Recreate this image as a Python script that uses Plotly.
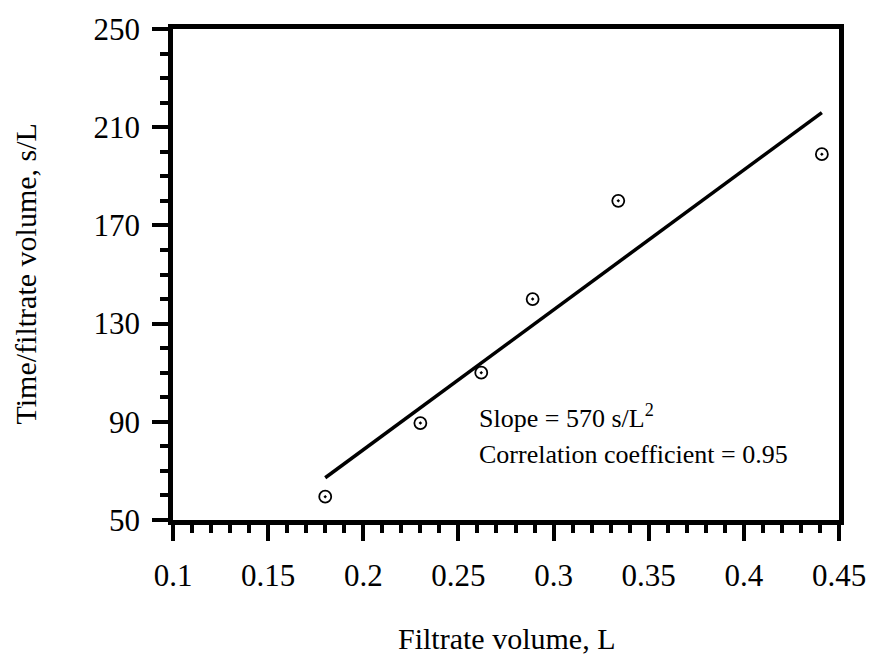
import plotly.graph_objects as go

# Measured filtration data
filtrate_volume = [0.180, 0.230, 0.262, 0.289, 0.334, 0.441]      # L
time_per_volume = [59.5, 89.5, 110.0, 140.0, 180.0, 199.0]        # s/L

# Least-squares line reported on the chart
slope = 570.0          # s/L^2
intercept = -35.4      # s/L
fit_x = [0.180, 0.441]
fit_y = [slope * v + intercept for v in fit_x]

x_ticks = [0.1, 0.15, 0.2, 0.25, 0.3, 0.35, 0.4, 0.45]
x_tick_text = ["0.1", "0.15", "0.2", "0.25", "0.3", "0.35", "0.4", "0.45"]
y_ticks = [50, 90, 130, 170, 210, 250]

FONT = "Liberation Serif, Times New Roman, serif"

fig = go.Figure()
fig.add_trace(go.Scatter(
    x=fit_x, y=fit_y, mode="lines",
    line=dict(color="black", width=3.5),
    showlegend=False, hoverinfo="skip",
))
fig.add_trace(go.Scatter(
    x=filtrate_volume, y=time_per_volume, mode="markers",
    marker=dict(symbol="circle-open-dot", size=12, color="black",
                line=dict(color="black", width=1.8)),
    showlegend=False,
))

axis_common = dict(
    showline=True, linecolor="black", linewidth=4.5, mirror=True,
    showgrid=False, zeroline=False,
    ticks="outside", tickcolor="black", tickwidth=3.5, ticklen=16,
    tickfont=dict(family=FONT, size=31, color="black"),
)

fig.update_xaxes(
    range=[0.1, 0.45], tickvals=x_ticks, ticktext=x_tick_text,
    minor=dict(dtick=0.01, tick0=0.1, ticks="outside", ticklen=8,
               tickwidth=3.5, tickcolor="black"),
    ticklabelstandoff=8,
    **axis_common,
)
fig.update_yaxes(
    range=[50, 250], tickvals=y_ticks,
    minor=dict(dtick=10, tick0=50, ticks="outside", ticklen=8,
               tickwidth=3.5, tickcolor="black"),
    ticklabelstandoff=6,
    **axis_common,
)

fig.add_annotation(
    x=0, y=0.5, xref="paper", yref="paper", xshift=-148,
    xanchor="center", yanchor="middle",
    text="Time/filtrate volume, s/L", textangle=-90, showarrow=False,
    font=dict(family=FONT, size=30, color="black"),
)
fig.add_annotation(
    x=0.5, y=0, xref="paper", yref="paper", yshift=-118,
    xanchor="center", yanchor="middle",
    text="Filtrate volume, L", showarrow=False,
    font=dict(family=FONT, size=30, color="black"),
)

# Fit statistics, one annotation per line
fig.add_annotation(
    x=0.260, y=84.6, xref="x", yref="y", xanchor="left", yanchor="bottom",
    text="Slope = 570 s/L<sup>2</sup>",
    align="left", showarrow=False,
    font=dict(family=FONT, size=26, color="black"),
)
fig.add_annotation(
    x=0.260, y=83.4, xref="x", yref="y", xanchor="left", yanchor="top",
    text="Correlation coefficient = 0.95",
    align="left", showarrow=False,
    font=dict(family=FONT, size=26, color="black"),
)

fig.update_layout(
    width=878, height=654,
    margin=dict(l=173, r=30, t=21, b=134),
    paper_bgcolor="white", plot_bgcolor="white",
)

fig.write_html("out.html")
